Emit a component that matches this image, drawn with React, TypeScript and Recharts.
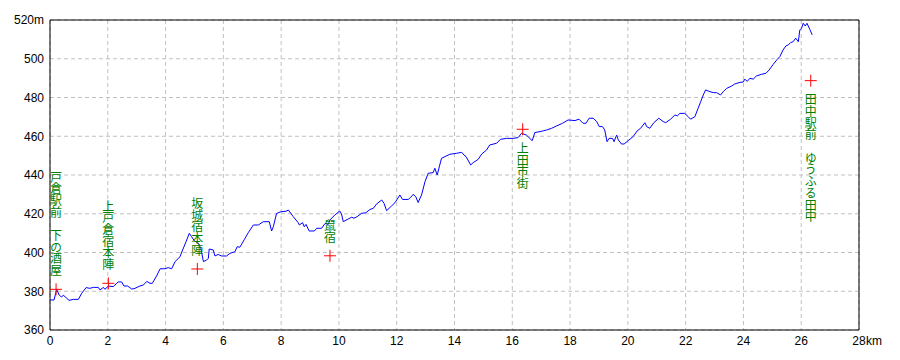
import React from 'react';
import { ComposedChart, Line, Scatter, XAxis, YAxis, CartesianGrid, ReferenceLine } from 'recharts';

// elevation profile, distance in km / height in m
const KM = [
  0.0, 0.14, 0.23, 0.32, 0.4, 0.46, 0.58, 0.66, 0.81, 0.98, 1.1, 1.25, 1.38, 1.5, 1.67, 1.73, 1.85, 1.9,
  2.02, 2.19, 2.36, 2.48, 2.56, 2.69, 2.83, 2.94, 3.11, 3.23, 3.35, 3.46, 3.54, 3.69, 3.81, 3.98, 4.09,
  4.21, 4.33, 4.5, 4.59, 4.71, 4.82, 4.9, 4.99, 5.13, 5.22, 5.31, 5.42, 5.48, 5.51, 5.65, 5.71, 5.82,
  5.94, 6.11, 6.23, 6.4, 6.48, 6.57, 6.72, 6.86, 7.04, 7.21, 7.38, 7.59, 7.67, 7.73, 7.84, 7.98, 8.17,
  8.25, 8.42, 8.59, 8.63, 8.74, 8.8, 8.86, 8.97, 9.15, 9.23, 9.4, 9.52, 9.63, 9.69, 9.86, 10.03, 10.09,
  10.15, 10.32, 10.44, 10.52, 10.63, 10.78, 10.93, 11.07, 11.19, 11.3, 11.48, 11.56, 11.65, 11.82, 11.94,
  12.11, 12.2, 12.4, 12.48, 12.57, 12.66, 12.74, 12.86, 12.98, 13.09, 13.26, 13.32, 13.4, 13.55, 13.67,
  13.84, 14.07, 14.25, 14.33, 14.4, 14.56, 14.65, 14.82, 14.94, 15.11, 15.22, 15.46, 15.59, 15.8, 16.03,
  16.2, 16.32, 16.49, 16.69, 16.78, 16.96, 17.07, 17.18, 17.36, 17.53, 17.74, 17.93, 18.17, 18.31, 18.45,
  18.55, 18.66, 18.8, 18.92, 19.01, 19.12, 19.2, 19.24, 19.28, 19.35, 19.47, 19.52, 19.61, 19.67, 19.78,
  19.87, 20.01, 20.18, 20.32, 20.44, 20.59, 20.65, 20.76, 20.9, 21.07, 21.22, 21.31, 21.48, 21.63, 21.71,
  21.8, 21.97, 22.09, 22.17, 22.32, 22.43, 22.52, 22.61, 22.69, 22.84, 22.96, 23.07, 23.21, 23.3, 23.42,
  23.59, 23.7, 23.88, 23.99, 24.05, 24.13, 24.22, 24.34, 24.45, 24.63, 24.78, 24.89, 25.03, 25.17, 25.26,
  25.37, 25.47, 25.55, 25.63, 25.72, 25.81, 25.9, 25.95, 26.01, 26.07, 26.14, 26.2, 26.3, 26.38,
];
const ELEV = [
  375.5, 375.5, 381, 378, 377, 378, 376.4, 375.3, 375.8, 375.8, 379, 381.9, 381.5, 382, 382, 380.7, 382, 381,
  382.7, 382.4, 384.8, 384.8, 382.7, 382.7, 381.1, 381.5, 382.7, 383.2, 385.1, 384.1, 384.1, 387.9, 391.6, 391.6, 392.2,
  391.6, 395.3, 397.8, 401.3, 405.6, 409.9, 408.2, 406.1, 404.8, 402.2, 395.3, 396.1, 397, 401.8, 401.3, 398.2, 399,
  398.2, 398.2, 399.6, 400.4, 403, 402.7, 406.5, 410.2, 414.2, 414.2, 415.9, 415.9, 411.1, 413.3, 420.1, 421, 421.3,
  421.9, 418.5, 415.4, 414.2, 415.4, 413.3, 414.5, 411.1, 411.1, 412.5, 412.5, 415, 414.5, 416.8, 419.4, 421.4, 419.9,
  415.9, 417.3, 418.2, 417.7, 418.5, 420.2, 420.5, 422.2, 422.8, 425, 427.1, 425.4, 421.6, 424, 425.7,
  429.7, 427.4, 427.4, 428.4, 430, 428.8, 425.8, 429.7, 436.6, 440.9, 441.2, 443.5, 440, 448.6, 449.5,
  450.7, 451.2, 451.7, 450.3, 449.5, 445.2, 446.4, 448.1, 450.8, 452.9, 455.5, 456.4, 458.4, 458.9, 458.9,
  459.3, 461.5, 460.6, 457.7, 461.9, 462.4, 462.8, 463.2, 464.1, 465.3, 466.7, 468.4, 468.1, 468.8, 466.7,
  466.7, 469.3, 469.3, 467.6, 465, 465, 463.2, 460.1, 457.2, 458.9, 458.9, 457.2, 460.6, 458.1, 456,
  456, 457.7, 459.8, 462.7, 464.1, 467, 465, 464.1, 467, 469.3, 467.6, 467, 468.8, 471, 470.5,
  471.8, 471.8, 470.1, 468.8, 470.1, 474.4, 477.8, 481.3, 483.9, 483, 482.5, 482.5, 481.3, 483, 484.7,
  485.9, 487, 487.8, 488, 489.5, 488.3, 489.9, 489.5, 491.1, 492, 492.5, 494.2, 497.1, 499.7, 501.1,
  504.5, 506.6, 507.1, 508.3, 508.8, 510.6, 508.8, 514.8, 515.7, 518.3, 516.9, 518.3, 515.1, 512.3,
];

// waypoints
const SPOT_NAMES = ['戸倉駅前　下の酒屋', '上戸倉宿本陣', '坂城宿本陣', '鼠宿', '上田市街', '田中駅前　ゆうふる田中'];
const SPOT_KM = [0.21, 2.02, 5.1, 9.69, 16.36, 26.33];
const SPOT_ELEV = [381, 384.1, 391.5, 398.3, 463.6, 488.7];

const X_TICKS = [0, 2, 4, 6, 8, 10, 12, 14, 16, 18, 20, 22, 24, 26, 28];
const Y_TICKS = [360, 380, 400, 420, 440, 460, 480, 500, 520];

// these two labels hang under their cross, the rest sit above
const LABEL_BELOW = ['上田市街', '田中駅前　ゆうふる田中'];

const profile = KM.map((km, i) => ({ km, elev: ELEV[i] }));
const spots = SPOT_NAMES.map((name, i) => ({ name, km: SPOT_KM[i], elev: SPOT_ELEV[i] }));

const FONT = '"Liberation Sans", Arial, sans-serif';
const JP = '"Noto Sans CJK JP", sans-serif';

const Spot = (props: any) => {
  const { cx, cy, payload } = props;
  if (cx == null || cy == null) return null;
  const below = LABEL_BELOW.includes(payload.name);
  return (
    <g>
      <line x1={cx - 6} x2={cx + 6} y1={cy} y2={cy} stroke="#ff0000" />
      <line x1={cx} x2={cx} y1={cy - 6} y2={cy + 6} stroke="#ff0000" />
      <text
        x={cx}
        y={below ? cy + 13 : cy - 13}
        textAnchor={below ? 'start' : 'end'}
        fontSize={12}
        letterSpacing={-0.3}
        fontFamily={JP}
        fill="#008000"
        style={{ writingMode: 'vertical-rl', textOrientation: 'upright' } as any}
      >
        {payload.name}
      </text>
    </g>
  );
};

const XTick = ({ x, y, payload }: any) => (
  <g>
    <text x={x} y={y} dy="0.71em" textAnchor="middle" fontSize={12} fontFamily={FONT} fill="#000">
      {payload.value}
    </text>
    {payload.value === 28 && (
      <text x={x + 7} y={y} dy="0.71em" textAnchor="start" fontSize={12} fontFamily={FONT} fill="#000">
        km
      </text>
    )}
  </g>
);

export default function App() {
  return (
    <div style={{ position: 'absolute', left: 0, top: 0, width: 900, height: 360, background: '#fff' }}>
      <ComposedChart width={900} height={360} margin={{ top: 20, right: 41, bottom: 0, left: 0 }}>
        <CartesianGrid stroke="#c0c0c0" strokeDasharray="4 3" />
        <XAxis
          dataKey="km"
          type="number"
          domain={[0, 28]}
          ticks={X_TICKS}
          interval={0}
          height={30}
          tickLine={false}
          tickSize={4}
          tickMargin={2}
          axisLine={{ stroke: '#000' }}
          tick={<XTick />}
        />
        <YAxis
          dataKey="elev"
          type="number"
          domain={[360, 520]}
          ticks={Y_TICKS}
          interval={0}
          width={50}
          tickLine={false}
          tickSize={4}
          tickMargin={2}
          axisLine={{ stroke: '#000' }}
          tick={{ fill: '#000', fontSize: 12, fontFamily: FONT }}
          tickFormatter={(v: number) => (v === 520 ? '520m' : String(v))}
        />
        <ReferenceLine y={520} stroke="#000" />
        <ReferenceLine x={28} stroke="#000" />
        <Line data={profile} dataKey="elev" type="linear" stroke="#0000ff" strokeWidth={1} dot={false} isAnimationActive={false} />
        <Scatter data={spots} dataKey="elev" shape={<Spot />} isAnimationActive={false} />
      </ComposedChart>
    </div>
  );
}
